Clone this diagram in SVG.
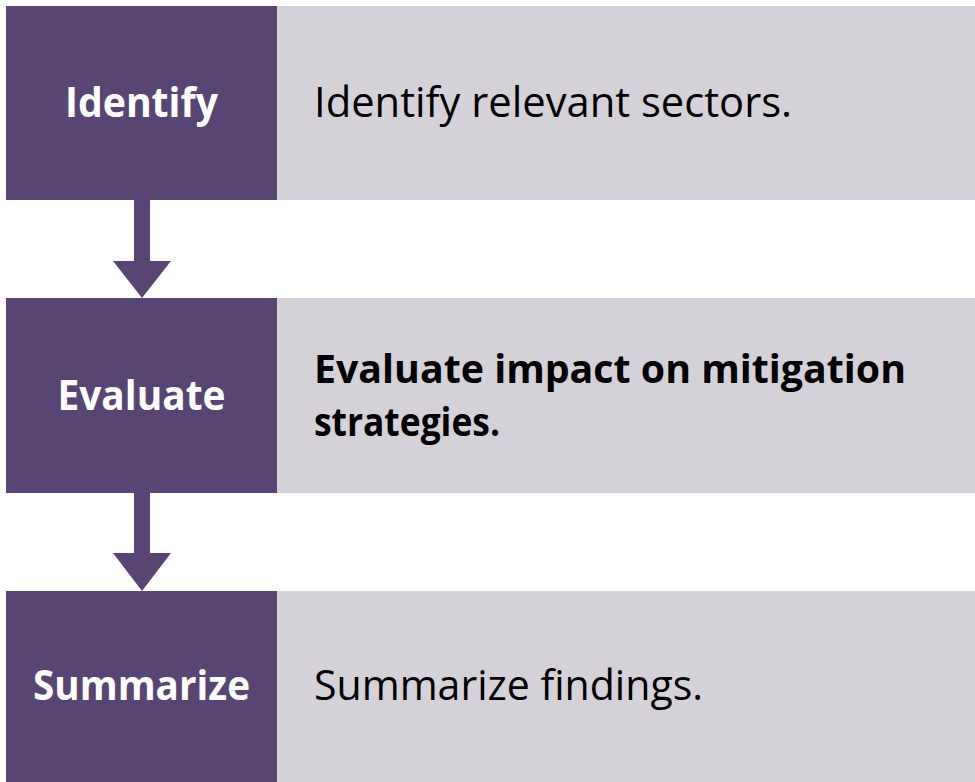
<svg xmlns="http://www.w3.org/2000/svg" width="975" height="782" viewBox="0 0 975 782">
<style>
.step{fill:#584573}
.desc{fill:#D4D1D9}
.lbl{font-family:"Open Sans","Liberation Sans",sans-serif;font-weight:bold;font-size:42px;fill:#FFFFFF;text-anchor:middle}
.txt{font-family:"Open Sans","Liberation Sans",sans-serif;font-size:42px;fill:#000000}
.txtb{font-family:"Open Sans","Liberation Sans",sans-serif;font-size:39px;font-weight:bold;fill:#000000}
.arrow{fill:#584573}
</style>
<rect width="975" height="782" fill="#FFFFFF"/>
<g id="connectors">
<path class="arrow" d="M134 200 H150 V261 H171 L142 298 L113 261 H134 Z"/>
<path class="arrow" d="M134 493 H150 V553 H171 L142 591 L113 553 H134 Z"/>
</g>
<g id="identify">
<rect class="desc" x="277" y="6" width="698" height="194"/>
<rect class="step" x="6" y="6" width="271" height="194"/>
<text class="lbl" x="141.5" y="117" textLength="153" lengthAdjust="spacingAndGlyphs">Identify</text>
<text class="txt" x="314" y="117" textLength="478" lengthAdjust="spacingAndGlyphs">Identify relevant sectors.</text>
</g>
<g id="evaluate">
<rect class="desc" x="277" y="298" width="698" height="195"/>
<rect class="step" x="6" y="298" width="271" height="195"/>
<text class="lbl" x="141.5" y="410" textLength="168" lengthAdjust="spacingAndGlyphs">Evaluate</text>
<text class="txtb" x="314" y="383" textLength="592" lengthAdjust="spacingAndGlyphs">Evaluate impact on mitigation</text>
<text class="txtb" x="314" y="436" textLength="186" lengthAdjust="spacingAndGlyphs">strategies.</text>
</g>
<g id="summarize">
<rect class="desc" x="277" y="591" width="698" height="191"/>
<rect class="step" x="6" y="591" width="271" height="191"/>
<text class="lbl" x="141.5" y="700" textLength="217" lengthAdjust="spacingAndGlyphs">Summarize</text>
<text class="txt" x="314" y="700" textLength="389" lengthAdjust="spacingAndGlyphs">Summarize findings.</text>
</g>
</svg>
